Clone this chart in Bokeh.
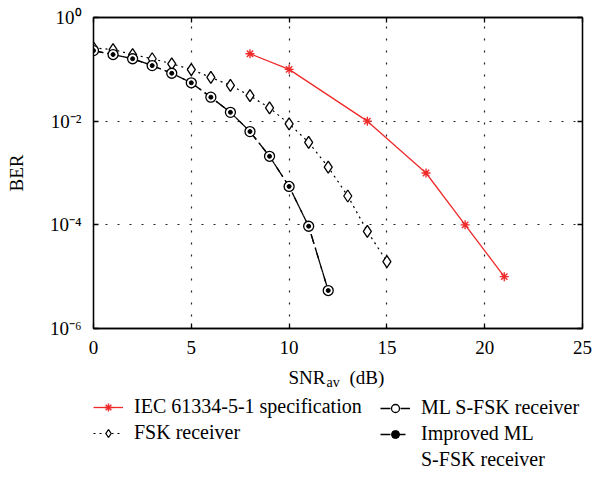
from bokeh.plotting import figure
from bokeh.layouts import column
from bokeh.models import (LinearAxis, LogAxis, FixedTicker, CustomJSTickFormatter,
                          Legend, LegendItem, Label, Range1d)
from bokeh.embed import file_html
from bokeh.resources import INLINE

# ---------------- data ----------------
snr_iec = [8, 10, 14, 17, 19, 21]
ber_iec = [0.2, 0.1, 1e-2, 1e-3, 1e-4, 1e-5]

snr_fsk = [0, 1, 2, 3, 4, 5, 6, 7, 8, 9, 10, 11, 12, 13, 14, 15]
ber_fsk = [0.26, 0.24, 0.193, 0.16, 0.128, 0.099, 0.07, 0.049, 0.031, 0.018,
           0.0089, 0.0039, 0.0013, 3.6e-4, 7.5e-5, 1.95e-5]

snr_ml = [0, 1, 2, 3, 4, 5, 6, 7, 8, 9, 10, 11, 12]
ber_ml = [0.23, 0.193, 0.16, 0.118, 0.084, 0.055, 0.029, 0.0148, 0.0063,
          0.0021, 5.5e-4, 9.4e-5, 5.4e-6]

snr_iml = [0, 1, 2, 3, 4, 5, 6, 7, 8, 9, 10, 11, 12]
ber_iml = [0.23, 0.193, 0.16, 0.118, 0.084, 0.055, 0.029, 0.0148, 0.0063,
           0.0021, 5.5e-4, 9.4e-5, 5.4e-6]

x_ticks = [0, 5, 10, 15, 20, 25]
y_ticks = [1e-6, 1e-4, 1e-2, 1]

labels = ["IEC 61334-5-1 specification", "FSK receiver",
          "ML S-FSK receiver", "Improved ML", "S-FSK receiver"]

# ---------------- layout constants ----------------
W = 598
H1, H2 = 360, 112
BL, BR = 93, 16          # left / right borders (frame x: 93..582)
FONT = "Liberation Serif"
RED = "#ee2a2a"

p = figure(width=W, height=H1, x_range=Range1d(0, 25), y_range=Range1d(1e-6, 1),
           y_axis_type="log", output_backend="svg", toolbar_location=None,
           min_border_left=BL, min_border_right=BR, min_border_top=17,
           min_border_bottom=32, outline_line_color="black", outline_line_width=1.3,
           background_fill_color="white", border_fill_color="white")

sup = CustomJSTickFormatter(code="""
const e = Math.round(Math.log10(tick));
const m = {"0":"\u2070","1":"\u00b9","2":"\u00b2","3":"\u00b3","4":"\u2074","5":"\u2075",
           "6":"\u2076","7":"\u2077","8":"\u2078","9":"\u2079","-":"\u207b"};
return "10" + String(e).split("").map(c => m[c]).join("");
""")
blank = CustomJSTickFormatter(code='return "";')

for ax in p.xaxis:
    ax.ticker = FixedTicker(ticks=x_ticks)
for ax in p.yaxis:
    ax.ticker = FixedTicker(ticks=y_ticks)
    ax.formatter = sup

for ax in list(p.xaxis) + list(p.yaxis):
    ax.major_tick_in = 5
    ax.major_tick_out = 0
    ax.minor_tick_line_color = None
    ax.axis_line_width = 1.3
    ax.major_tick_line_width = 1.3
    ax.major_label_text_font = FONT
    ax.major_label_text_font_size = "19px"
    ax.major_label_text_color = "black"

p.xaxis.major_label_standoff = 12
p.yaxis.major_label_standoff = 12
p.yaxis.axis_label = "BER"
p.yaxis.axis_label_text_font = FONT
p.yaxis.axis_label_text_font_size = "19px"
p.yaxis.axis_label_text_font_style = "normal"
p.yaxis.axis_label_text_color = "black"
p.yaxis.axis_label_standoff = 20

top = LinearAxis(ticker=FixedTicker(ticks=x_ticks), formatter=blank)
right = LogAxis(ticker=FixedTicker(ticks=y_ticks), formatter=blank)
for ax in (top, right):
    ax.major_tick_in = 5
    ax.major_tick_out = 0
    ax.minor_tick_line_color = None
    ax.axis_line_width = 1.3
    ax.major_tick_line_width = 1.3
    ax.major_label_text_font_size = "1px"
    ax.major_label_standoff = 0
p.add_layout(top, "above")
p.add_layout(right, "right")

for g in (p.xgrid, p.ygrid):
    g.grid_line_color = "#222222"
    g.grid_line_width = 1.2
    g.grid_line_dash = "2 10"

# ---------------- series ----------------
STY = {
    "iec_l": dict(line_color=RED, line_width=1.3),
    "fsk_l": dict(line_color="black", line_width=1.2, line_dash="2 4"),
    "ml_l": dict(line_color="black", line_width=1.3, line_dash="10 4 2 4"),
    "iml_l": dict(line_color="black", line_width=1.3, line_dash="10 5"),
    "iec_m": dict(marker="asterisk", size=9, line_color=RED, line_width=1.4),
    "fsk_m": dict(marker="diamond", size=12, fill_color="white", line_color="black", line_width=1.3),
    "ml_m": dict(marker="circle", size=10, fill_color="white", line_color="black", line_width=1.3),
    "iml_m": dict(marker="circle", size=4, fill_color="black", line_color="black"),
}

p.line(snr_iec, ber_iec, **STY["iec_l"])
p.line(snr_fsk, ber_fsk, **STY["fsk_l"])
p.line(snr_ml, ber_ml, **STY["ml_l"])
p.line(snr_iml, ber_iml, **STY["iml_l"])
p.scatter(snr_iec, ber_iec, **STY["iec_m"])
p.scatter(snr_fsk, ber_fsk, **STY["fsk_m"])
p.scatter(snr_ml, ber_ml, **STY["ml_m"])
p.scatter(snr_iml, ber_iml, **STY["iml_m"])

# ---------------- bottom panel: x-axis title + legend ----------------
# its frame is aligned with the plot's frame (x 93..582), so use pixel-like ranges
q = figure(width=W, height=H2, x_range=Range1d(BL, W - BR), y_range=Range1d(H2, 0),
           output_backend="svg", toolbar_location=None, x_axis_location=None,
           y_axis_location=None, min_border_left=BL, min_border_right=BR,
           min_border_top=0, min_border_bottom=0, outline_line_color=None,
           background_fill_color="white", border_fill_color="white")
q.grid.visible = False

# legend sample renderers (hidden; only their styles show in the legend)
def keys(xs, ys, l, m):
    return [q.line(xs, ys, visible=False, **STY[l]),
            q.scatter(xs, ys, visible=False, **STY[m])]

k_iec = keys(snr_iec, ber_iec, "iec_l", "iec_m")
k_fsk = keys(snr_fsk, ber_fsk, "fsk_l", "fsk_m")
k_ml = keys(snr_ml, ber_ml, "ml_l", "ml_m")
k_iml = keys(snr_iml, ber_iml, "iml_l", "iml_m")
k_none = [q.line(snr_iml, ber_iml, visible=False, line_alpha=0)]

def mk_legend(items, loc):
    return Legend(items=items, location=loc, orientation="vertical",
                  glyph_width=30, glyph_height=20, label_height=20, label_standoff=11,
                  spacing=3, padding=0, margin=0,
                  label_text_font=FONT, label_text_font_size="20px",
                  label_text_color="black",
                  background_fill_alpha=0, border_line_alpha=0,
                  inactive_fill_alpha=0)

legA = mk_legend([LegendItem(label=labels[0], renderers=k_iec),
                  LegendItem(label=labels[1], renderers=k_fsk)], (0, 28))
legB = mk_legend([LegendItem(label=labels[2], renderers=k_ml),
                  LegendItem(label=labels[3], renderers=k_iml),
                  LegendItem(label=labels[4], renderers=k_none)], (287, 1))
q.add_layout(legA)
q.add_layout(legB)

q.add_layout(Label(x=325, y=17, text="SNR", text_font=FONT, text_font_size="19px",
                   text_color="black", text_baseline="middle", text_align="right"))
q.add_layout(Label(x=326, y=22, text="av", text_font=FONT, text_font_size="14px",
                   text_color="black", text_baseline="middle", text_align="left"))
q.add_layout(Label(x=349, y=17, text="(dB)", text_font=FONT, text_font_size="19px",
                   text_color="black", text_baseline="middle", text_align="left"))

open("out.html", "w").write(file_html(column(p, q, spacing=0), INLINE))
